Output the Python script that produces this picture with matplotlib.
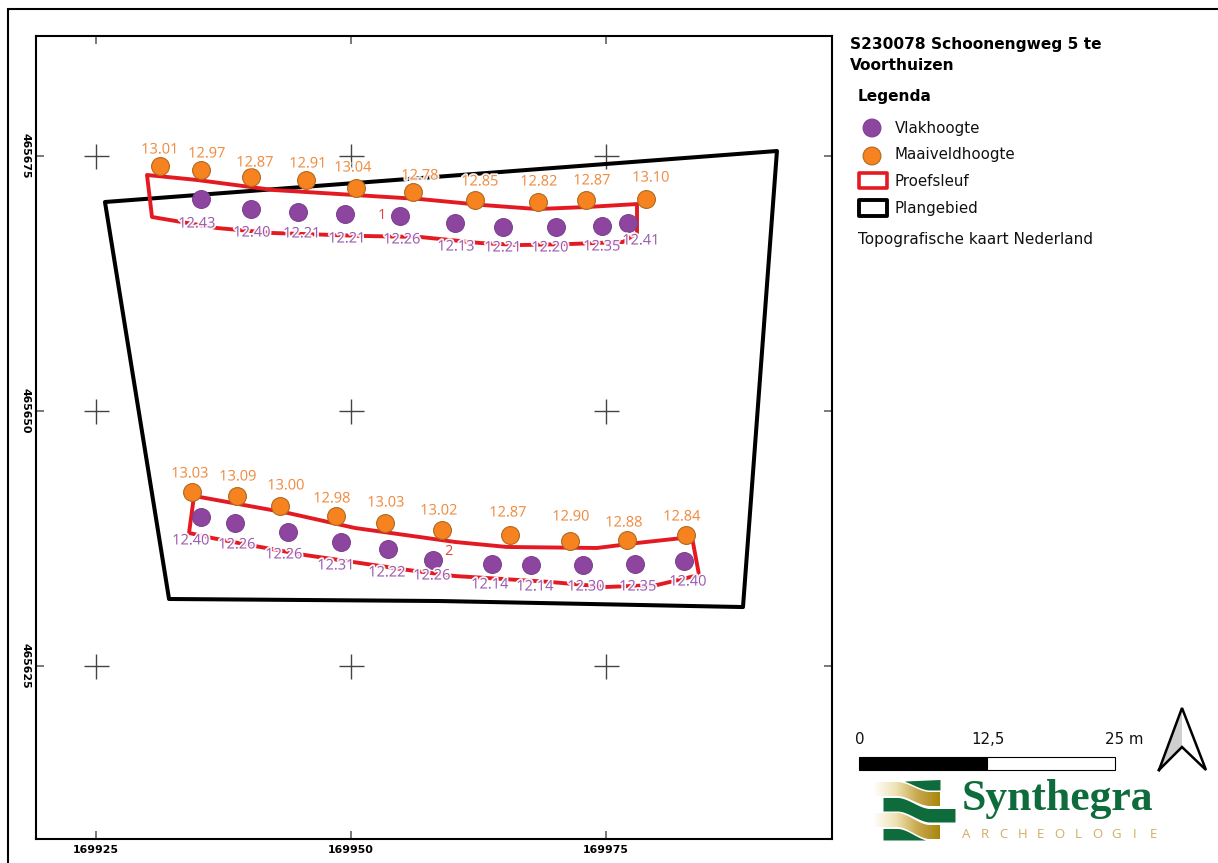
import numpy as np
import matplotlib
matplotlib.use('Agg')
import matplotlib.pyplot as plt
import matplotlib.patheffects as pe
from matplotlib.colors import LinearSegmentedColormap
from matplotlib.patches import Polygon, Rectangle

# map coordinates are metres from the 169925 / 465625 grid crossing
E0 = 169925
N0 = 465625

plan_x = [0.88, 66.76, 63.43, 33.73, 7.16]
plan_y = [45.49, 50.49, 5.78, 6.37, 6.57]

sleuf1_x = [5.00, 9.90, 17.35, 31.76, 37.84, 43.24, 48.14, 53.04, 53.04, 51.67, 46.47, 41.57, 37.65, 31.76, 26.18, 17.35, 11.86, 5.49]
sleuf1_y = [48.14, 47.65, 46.67, 45.78, 45.20, 44.80, 45.00, 45.29, 42.45, 41.57, 41.37, 41.27, 41.47, 42.06, 42.16, 42.45, 42.94, 44.02]
sleuf2_x = [9.61, 18.82, 25.39, 35.20, 40.29, 49.12, 53.04, 58.43, 59.12, 55.00, 50.10, 44.51, 35.20, 30.59, 20.49, 15.59, 11.37, 9.12]
sleuf2_y = [16.67, 15.00, 13.53, 12.16, 11.67, 11.57, 12.06, 12.65, 8.92, 7.94, 7.75, 8.24, 8.82, 9.41, 10.88, 11.76, 12.55, 13.04]

maaiveld_x = [6.27, 10.29, 15.20, 20.59, 25.49, 31.08, 37.16, 43.33, 48.04, 53.92,
              9.41, 13.82, 18.04, 23.53, 28.33, 33.92, 40.59, 46.47, 52.06, 57.84]
maaiveld_y = [49.02, 48.63, 47.94, 47.65, 46.86, 46.47, 45.69, 45.49, 45.69, 45.78,
              17.06, 16.67, 15.69, 14.71, 14.02, 13.33, 12.84, 12.25, 12.35, 12.84]
maaiveld_z = ['13.01', '12.97', '12.87', '12.91', '13.04', '12.78', '12.85', '12.82', '12.87', '13.10',
              '13.03', '13.09', '13.00', '12.98', '13.03', '13.02', '12.87', '12.90', '12.88', '12.84']

vlak_x = [10.29, 15.20, 19.80, 24.41, 29.80, 35.20, 39.90, 45.10, 49.61, 52.16,
          10.29, 13.63, 18.82, 24.02, 28.63, 33.04, 38.82, 42.65, 47.75, 52.84, 57.65]
vlak_y = [45.78, 44.80, 44.51, 44.31, 44.12, 43.43, 43.04, 43.04, 43.14, 43.43,
          14.61, 14.02, 13.14, 12.16, 11.47, 10.39, 10.00, 9.90, 9.90, 10.00, 10.29]
vlak_z = ['12.43', '12.40', '12.21', '12.21', '12.26', '12.13', '12.21', '12.20', '12.35', '12.41',
          '12.40', '12.26', '12.26', '12.31', '12.22', '12.26', '12.14', '12.14', '12.30', '12.35', '12.40']

sleuf_nr = ['1', '2']
sleuf_nr_x = [28.04, 34.51]
sleuf_nr_y = [44.12, 11.18]

# label placement, pixels right / down from the point
maaiveld_off = [(0, -16), (6, -16), (4, -14), (2, -16), (-3, -20), (7, -16), (5, -18), (1, -20), (6, -19), (5, -21),
                (-2, -18), (1, -19), (6, -20), (-4, -17), (1, -20), (-3, -19), (-2, -22), (1, -24), (-3, -17), (-4, -18)]
vlak_off = [(-4, 25), (1, 24), (4, 22), (2, 25), (2, 24), (1, 24), (0, 21), (-6, 21), (0, 21), (13, 18),
            (-10, 24), (2, 22), (-4, 23), (-5, 24), (-1, 24), (-1, 16), (-2, 21), (4, 22), (3, 22), (3, 23), (4, 21)]

ticks_e = [169925, 169950, 169975]
ticks_n = [465625, 465650, 465675]

PURPLE = '#8e459f'
ORANGE = '#f6831f'
RED = '#e41a23'
GREEN = '#0e6b3b'
SANS = 'DejaVu Sans'

fig = plt.figure(figsize=(12.18, 8.63), dpi=100)
ax = fig.add_axes([36 / 1218, 24 / 863, 796 / 1218, 803 / 863])
ax.set_xlim(E0 - 60 / 10.2, E0 + 736 / 10.2)
ax.set_ylim(N0 - 173 / 10.2, N0 + 630 / 10.2)

for s in ax.spines.values():
    s.set_linewidth(1.5)
ax.set_xticks(ticks_e)
ax.set_yticks(ticks_n)
ax.set_xticklabels([str(t) for t in ticks_e], fontsize=7.9, fontweight='bold', family=SANS)
ax.set_yticklabels([str(t) for t in ticks_n], fontsize=7.9, fontweight='bold', family=SANS,
                   rotation=270, va='center')
ax.tick_params(direction='in', length=6, width=1.1, color='#555555', top=True, right=True, pad=4)

ee, nn = np.meshgrid(ticks_e, ticks_n)
ax.plot(ee.ravel(), nn.ravel(), ls='none', marker='+', ms=18, mew=1.0, color='#444444', zorder=1)

ax.add_patch(Polygon(np.column_stack([E0 + np.array(plan_x), N0 + np.array(plan_y)]), closed=True,
                     fill=False, ec='black', lw=2.9, joinstyle='round', zorder=2))
for xs, ys in [(sleuf1_x, sleuf1_y), (sleuf2_x, sleuf2_y)]:
    ax.add_patch(Polygon(np.column_stack([E0 + np.array(xs), N0 + np.array(ys)]), closed=True,
                         fill=False, ec=RED, lw=2.8, joinstyle='round', zorder=3))

ax.scatter(E0 + np.array(vlak_x), N0 + np.array(vlak_y), s=165, c=PURPLE, edgecolors='#7b4290', lw=0.8, zorder=4)
ax.scatter(E0 + np.array(maaiveld_x), N0 + np.array(maaiveld_y), s=165, c=ORANGE, edgecolors='#b0691f', lw=0.8, zorder=4)

halo = [pe.withStroke(linewidth=2.6, foreground='white', alpha=0.92)]


def labels(xs, ys, texts, offs, color):
    for x, y, t, (dx, dy) in zip(xs, ys, texts, offs):
        ax.annotate(t, (E0 + x, N0 + y), xytext=(dx, -dy), textcoords='offset pixels',
                    ha='center', va='center', fontsize=10.5, family='Open Sans', color=color,
                    path_effects=halo, zorder=5)


labels(maaiveld_x, maaiveld_y, maaiveld_z, maaiveld_off, '#f08a3e')
labels(vlak_x, vlak_y, vlak_z, vlak_off, '#9b59b0')
for x, y, t in zip(sleuf_nr_x, sleuf_nr_y, sleuf_nr):
    ax.text(E0 + x, N0 + y, t, ha='center', va='center', fontsize=10.5, family='Open Sans', color='#e8413c', zorder=5)

# layout furniture in page pixels
pg = fig.add_axes([0, 0, 1, 1], zorder=10)
pg.set_xlim(0, 1218)
pg.set_ylim(863, 0)
pg.axis('off')
pg.patch.set_alpha(0)

pg.plot([8, 8, 1218], [863, 9, 9], color='black', lw=1.5, solid_joinstyle='miter')

pg.text(850, 45, 'S230078 Schoonengweg 5 te', fontsize=11.05, fontweight='bold', family=SANS, va='center')
pg.text(850, 66, 'Voorthuizen', fontsize=11.05, fontweight='bold', family=SANS, va='center')
pg.text(858, 96, 'Legenda', fontsize=11.05, fontweight='bold', family=SANS, va='center')

pg.scatter([872, 872], [128, 156], s=165, c=[PURPLE, ORANGE], edgecolors=['#7b4290', '#b0691f'], lw=0.8)
pg.add_patch(Rectangle((858.5, 173.5), 28, 15, fill=False, ec=RED, lw=2.6, joinstyle='round'))
pg.add_patch(Rectangle((858.5, 199.5), 28, 16.5, fill=False, ec='black', lw=2.8, joinstyle='round'))
for y, t in zip([128, 155, 181, 208], ['Vlakhoogte', 'Maaiveldhoogte', 'Proefsleuf', 'Plangebied']):
    pg.text(895, y, t, fontsize=10.8, family=SANS, va='center', color='#111111')
pg.text(858, 239, 'Topografische kaart Nederland', fontsize=10.95, family=SANS, va='center', color='#111111')

# scale bar
pg.add_patch(Rectangle((859, 757), 127.5, 13, fc='black', ec='black', lw=0.8))
pg.add_patch(Rectangle((986.5, 757), 128.5, 13, fc='white', ec='black', lw=0.8))
pg.text(860, 739, '0', fontsize=10.8, family=SANS, ha='center', va='center', color='#111111')
pg.text(988, 739, '12,5', fontsize=10.8, family=SANS, ha='center', va='center', color='#111111')
pg.text(1124, 739, '25 m', fontsize=10.8, family=SANS, ha='center', va='center', color='#111111')

# north arrow
pg.add_patch(Polygon([(1182, 708), (1159, 770), (1182, 747)], closed=True, fc='#cfcfcf', ec='none'))
pg.plot([1159, 1182, 1206, 1182, 1159], [770, 708, 770, 747, 770], color='black', lw=1.8, solid_joinstyle='miter')

# logo
gold = LinearSegmentedColormap.from_list('gold', ['#ffffff', '#f0e3b4', '#c7a94e', '#a8860c'])
grad = np.linspace(0, 1, 128)[None, :]


def wave(xs, top0, drop):
    t = np.clip((xs - 897) / 33, 0, 1)
    return top0 + drop * t * t * (3 - 2 * t)


def gold_band(x0, x1, top0, drop, thick):
    xs = np.linspace(x0, x1, 60)
    top = wave(xs, top0, drop)
    poly = Polygon(np.r_[np.c_[xs, top], np.c_[xs[::-1], (top + thick)[::-1]]], closed=True, fc='none', ec='none')
    pg.add_patch(poly)
    im = pg.imshow(grad, cmap=gold, extent=(x0, x1, top0 + drop + thick, top0), aspect='auto', zorder=2)
    im.set_clip_path(poly)


gold_band(873, 940, 782, 10, 14)
gold_band(873, 940, 813, 12, 14)

xs = np.linspace(883, 955, 60)
top = wave(xs, 797.5, 11)
pg.fill_between(xs, top, top + 13.5, color=GREEN, lw=0, zorder=3)
xs = np.linspace(905, 940, 30)
pg.fill_between(xs, np.linspace(781, 779.5, 30), wave(xs, 780, 10), color=GREEN, lw=0, zorder=3)
xs = np.linspace(883, 925, 40)
pg.fill_between(xs, np.minimum(wave(xs, 828.5, 12), 840), 840, color=GREEN, lw=0, zorder=3)

pg.set_xlim(0, 1218)
pg.set_ylim(863, 0)

pg.text(962, 810, 'Synthegra', fontsize=31.5, fontweight='bold', family='Liberation Serif', color=GREEN, va='baseline')
for x, c in zip(np.linspace(966, 1153, 11), 'ARCHEOLOGIE'):
    pg.text(x, 834, c, fontsize=9.5, family='Open Sans', color='#cfae62', ha='center', va='center')

fig.savefig('out.png', dpi=100)
